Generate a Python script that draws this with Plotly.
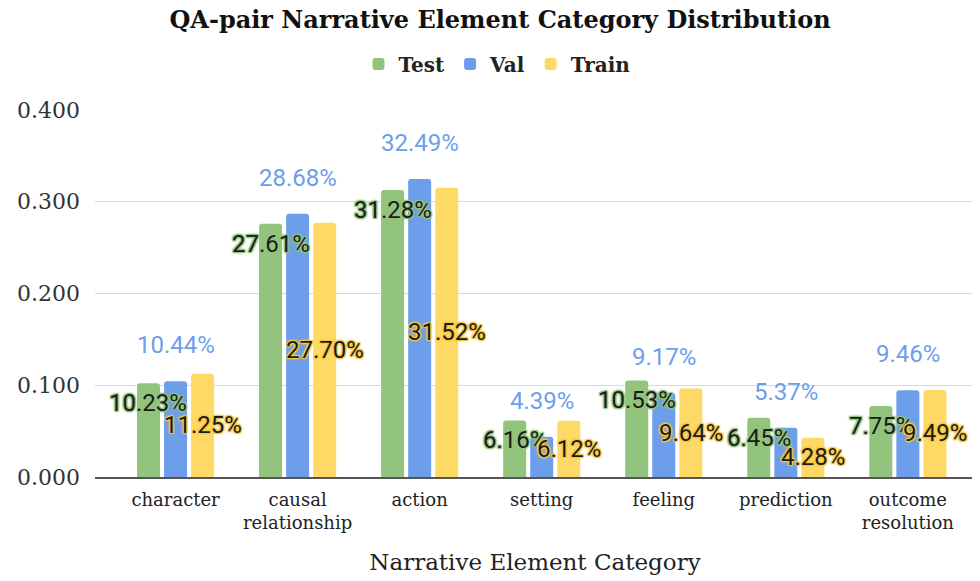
import plotly.graph_objects as go

categories = ["character", "causal<br>relationship", "action", "setting",
              "feeling", "prediction", "outcome<br>resolution"]
test_vals = [0.1023, 0.2761, 0.3128, 0.0616, 0.1053, 0.0645, 0.0775]
val_vals = [0.1044, 0.2868, 0.3249, 0.0439, 0.0917, 0.0537, 0.0946]
train_vals = [0.1125, 0.2770, 0.3152, 0.0612, 0.0964, 0.0428, 0.0949]
y_ticks = [0.0, 0.1, 0.2, 0.3, 0.4]
y_ticklabels = ["0.000", "0.100", "0.200", "0.300", "0.400"]

C_TEST = "#93c47d"
C_VAL = "#6d9eeb"
C_TRAIN = "#ffd966"

# the page body has an 8px margin, so the figure is drawn 8px in from the corner
OFF = 8
W, H = 980 - OFF, 581 - OFF
ML, MR, MT, MB = 87, 5, 102, 104
XR = [-0.66, 6.55]
BARGAP = 0.335
BARGROUPGAP = 0.15

fig = go.Figure()
for name, vals, col in [("Test", test_vals, C_TEST), ("Val", val_vals, C_VAL),
                        ("Train", train_vals, C_TRAIN)]:
    fig.add_trace(go.Bar(name=name, x=categories, y=vals, marker_color=col,
                         marker_line_width=0, marker_cornerradius=3))

px_per_cat = (W - ML - MR) / (XR[1] - XR[0])
slot = px_per_cat * (1 - BARGAP) / 3


def halo(c):
    return (f"-1px -1px 1px {c}, 1px -1px 1px {c}, -1px 1px 1px {c}, "
            f"1px 1px 1px {c}, 0 0 3px {c}, 0 0 3px {c}")


lab_font = "Roboto, sans-serif"
LS = 24
ann = []
for i, cat in enumerate(categories):
    ann.append(dict(x=cat, y=test_vals[i], xref="x", yref="y", showarrow=False,
                    text=f"{test_vals[i]*100:.2f}%", xshift=-slot, yshift=-20,
                    font=dict(family=lab_font, size=LS, color="#1b1b1b",
                              shadow=halo(C_TEST))))
    ann.append(dict(x=cat, y=val_vals[i], xref="x", yref="y", showarrow=False,
                    text=f"{val_vals[i]*100:.2f}%", xshift=0, yshift=36,
                    font=dict(family=lab_font, size=LS, color=C_VAL)))
    ann.append(dict(x=cat, y=train_vals[i] / 2, xref="x", yref="y", showarrow=False,
                    text=f"{train_vals[i]*100:.2f}%", xshift=slot, yshift=0,
                    font=dict(family=lab_font, size=LS, color="#1b1b1b",
                              shadow=halo("#f5c842"))))

serif = "DejaVu Serif, Liberation Serif, serif"
fig.update_layout(
    width=W, height=H,
    margin=dict(l=ML, r=MR, t=MT, b=MB, autoexpand=False),
    paper_bgcolor="white", plot_bgcolor="white",
    barmode="group", bargap=BARGAP, bargroupgap=BARGROUPGAP,
    title=dict(text="<b>QA-pair Narrative Element Category Distribution</b>",
               x=(500 - OFF) / W, xanchor="center", y=1 - (20 - OFF) / H,
               yanchor="middle", xref="container", yref="container",
               font=dict(family=serif, size=24, color="#111")),
    legend=dict(orientation="h", x=(497 - OFF) / W, xanchor="center",
                y=1 - 56 / H, yanchor="middle", xref="container", yref="container",
                font=dict(family=serif, size=20, color="#222", weight="bold"),
                itemwidth=30),
    annotations=ann,
    font=dict(family=serif),
)
fig.update_xaxes(range=XR, showgrid=False, showline=True, linecolor="#555",
                 linewidth=2, tickfont=dict(family=serif, size=18, color="#222"),
                 ticks="", ticklabelstandoff=5, automargin=False,
                 title=dict(text="Narrative Element Category", standoff=22,
                            font=dict(family=serif, size=23, color="#222")))
fig.update_yaxes(range=[0, 0.4], tickvals=y_ticks, ticktext=y_ticklabels,
                 showgrid=True, gridcolor="#d9d9d9", gridwidth=1, zeroline=False,
                 tickfont=dict(family=serif, size=22, color="#333"),
                 ticklabelstandoff=14, showline=False, automargin=False)

fig.write_html("out.html")
